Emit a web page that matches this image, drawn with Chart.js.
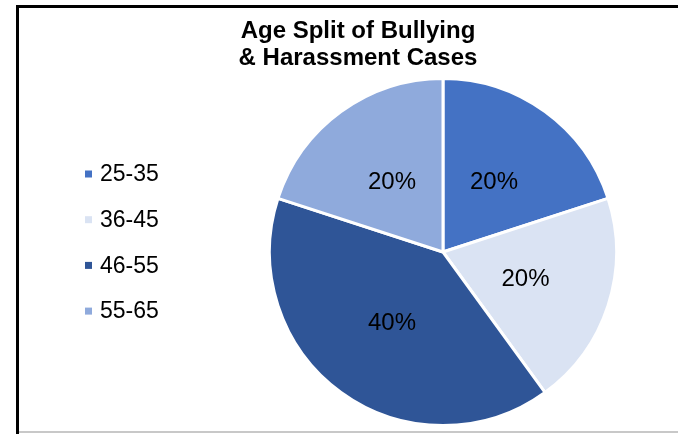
<!DOCTYPE html>
<html>
<head>
<meta charset="utf-8">
<script src="https://cdn.jsdelivr.net/npm/chart.js@4.4.1/dist/chart.umd.min.js"></script>
<style>
  html, body { margin: 0; padding: 0; background: #fff; }
  #wrap { position: relative; width: 678px; height: 434px; overflow: hidden; }
  #c { position: absolute; left: 0; top: 0; }
  .ln { position: absolute; }
</style>
</head>
<body>
<div id="wrap">
  <canvas id="c" width="678" height="434"></canvas>
  <div class="ln" style="left:16px;top:5px;width:662px;height:3px;background:#000;"></div>
  <div class="ln" style="left:16px;top:5px;width:3px;height:429px;background:#000;"></div>
  <div class="ln" style="left:19px;top:431px;width:659px;height:2px;background:#c8c8c8;"></div>
</div>
<script>
const titleLines = ["Age Split of Bullying", "& Harassment Cases"];
const categories = ["25-35", "36-45", "46-55", "55-65"];
const shares = [20, 20, 40, 20];
const sliceColors = ["#4472C4", "#DAE3F3", "#2F5597", "#8FAADC"];

const FONT = "'Liberation Sans', Arial, sans-serif";

const overlay = {
  id: 'overlay',
  afterDraw(chart) {
    const ctx = chart.ctx;
    ctx.save();
    // title
    ctx.fillStyle = '#000';
    ctx.textAlign = 'center';
    ctx.textBaseline = 'middle';
    ctx.font = 'bold 24px ' + FONT;
    ctx.fillText(titleLines[0], 358, 31);
    ctx.fillText(titleLines[1], 358, 58);
    // legend
    const ds = chart.data.datasets[0];
    ctx.textAlign = 'left';
    ctx.font = '23px ' + FONT;
    chart.data.labels.forEach((lab, i) => {
      const y = 174 + i * 45.7;
      ctx.fillStyle = ds.backgroundColor[i];
      ctx.fillRect(85, y - 3.5, 7, 7);
      ctx.fillStyle = '#000';
      ctx.fillText(lab, 100, y + 1);
    });
    // data labels
    const meta = chart.getDatasetMeta(0);
    const total = ds.data.reduce((a, b) => a + b, 0);
    ctx.textAlign = 'center';
    ctx.font = '24px ' + FONT;
    meta.data.forEach((arc, i) => {
      const p = arc.getProps(['x', 'y', 'startAngle', 'endAngle', 'outerRadius'], true);
      const mid = (p.startAngle + p.endAngle) / 2;
      const r = p.outerRadius * 0.5;
      const x = p.x + Math.cos(mid) * r;
      const y = p.y + Math.sin(mid) * r;
      ctx.fillStyle = '#000';
      ctx.fillText(Math.round(ds.data[i] / total * 100) + '%', x, y + 1);
    });
    ctx.restore();
  }
};

new Chart(document.getElementById('c'), {
  type: 'pie',
  data: {
    labels: categories,
    datasets: [{
      data: shares,
      backgroundColor: sliceColors,
      borderColor: '#ffffff',
      borderWidth: 3
    }]
  },
  options: {
    responsive: false,
    animation: false,
    layout: { padding: { left: 268, top: 77, right: 60, bottom: 7 } },
    plugins: {
      legend: { display: false },
      title: { display: false },
      tooltip: { enabled: false }
    }
  },
  plugins: [overlay]
});
</script>
</body>
</html>
